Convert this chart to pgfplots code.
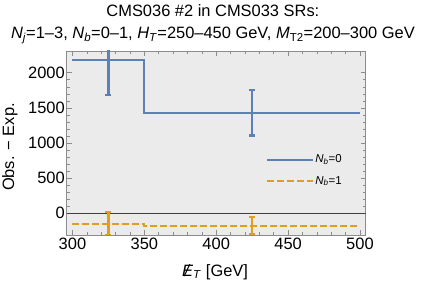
\documentclass[border=0pt]{standalone}
\usepackage{fontspec}
\setmainfont{Liberation Sans}
\usepackage{pgfplots}
\pgfplotsset{compat=1.18}
\definecolor{mblue}{RGB}{94,129,181}
\definecolor{morange}{RGB}{225,156,36}
\definecolor{bgray}{RGB}{235,235,235}
\definecolor{fgray}{RGB}{140,140,140}
\newcommand{\met}{\ooalign{\textit{E}\cr\hidewidth\textit{/}\hidewidth\cr}}
\begin{document}
\begin{tikzpicture}[x=1bp,y=1bp]
\useasboundingbox (0,0) rectangle (424,290);
\begin{axis}[
  at={(66.7bp,55bp)}, anchor=south west,
  scale only axis, width=299bp, height=184bp,
  xmin=296, xmax=504, ymin=-310, ymax=2310,
  axis background/.style={fill=bgray},
  axis line style={fgray, line width=0.8bp},
  xtick={300,350,...,500}, ytick={0,500,...,2000},
  minor x tick num=4, minor y tick num=4,
  tick align=inside, xtick pos=both, ytick pos=both,
  major tick length=5bp, minor tick length=3bp,
  every tick/.style={fgray, line width=0.6bp},
  ticklabel style={font=\fontsize{16.5}{17}\selectfont},
  yticklabel style={xshift=1.5bp},
  /pgf/number format/assume math mode=true,
  /pgf/number format/1000 sep={},
  title={CMS036 \#2 in CMS033 SRs:\\\textit{N}\textsubscript{\textit{j}}=1–3, \textit{N}\textsubscript{\textit{b}}=0–1, \textit{H}\textsubscript{\textit{T}}=250–450 GeV, \textit{M}\textsubscript{T2}=200–300 GeV},
  title style={at={(axis description cs:0.489,1.112)}, anchor=center, align=center, font=\fontsize{16.5}{22}\selectfont},
  xlabel={\met\textsubscript{\textit{T}} [GeV]},
  xlabel style={at={(axis description cs:0.496,-0.201)}, anchor=center, font=\fontsize{16.5}{17}\selectfont},
  ylabel={Obs. − Exp.},
  ylabel style={at={(axis description cs:-0.19,0.478)}, anchor=center, font=\fontsize{16.5}{17}\selectfont},
  legend style={at={(axis description cs:0.667,0.352)}, anchor=west, draw=none, fill=none,
    inner sep=0pt, row sep=10bp, nodes={inner sep=1bp}, font=\fontsize{11.5}{12}\selectfont},
  legend cell align=left,
  legend image code/.code={\draw[#1, line width=2bp] (0bp,0bp) -- (46bp,0bp);},
]
\addplot[draw=black!75, line width=0.8bp, forget plot] coordinates {(296,0) (504,0)};
\addplot[draw=mblue, line width=2bp, const plot] coordinates {(300,2180) (350,1431) (500,1431)};
\addlegendentry{\textit{N}\textsubscript{\textit{b}}=0}
\addplot[draw=morange, line width=2bp, const plot, dash pattern=on 6.5bp off 3.5bp] coordinates {(300,-148) (350,-176) (500,-176)};
\addlegendentry{\textit{N}\textsubscript{\textit{b}}=1}
\addplot[draw=none, mark=none, forget plot,
  error bars/.cd, y dir=both, y explicit,
  error bar style={draw=mblue, line width=2.3bp, solid},
  error mark options={draw=mblue, rotate=90, mark size=3bp, line width=2.3bp}]
  coordinates {(325,2180) +- (0,500) (425,1431) +- (0,324)};
\addplot[draw=none, mark=none, forget plot,
  error bars/.cd, y dir=both, y explicit,
  error bar style={draw=morange, line width=2.3bp, solid},
  error mark options={draw=morange, rotate=90, mark size=3bp, line width=2.3bp}]
  coordinates {(325,-148) +- (0,168) (425,-176) +- (0,121)};
\end{axis}
\end{tikzpicture}
\end{document}
